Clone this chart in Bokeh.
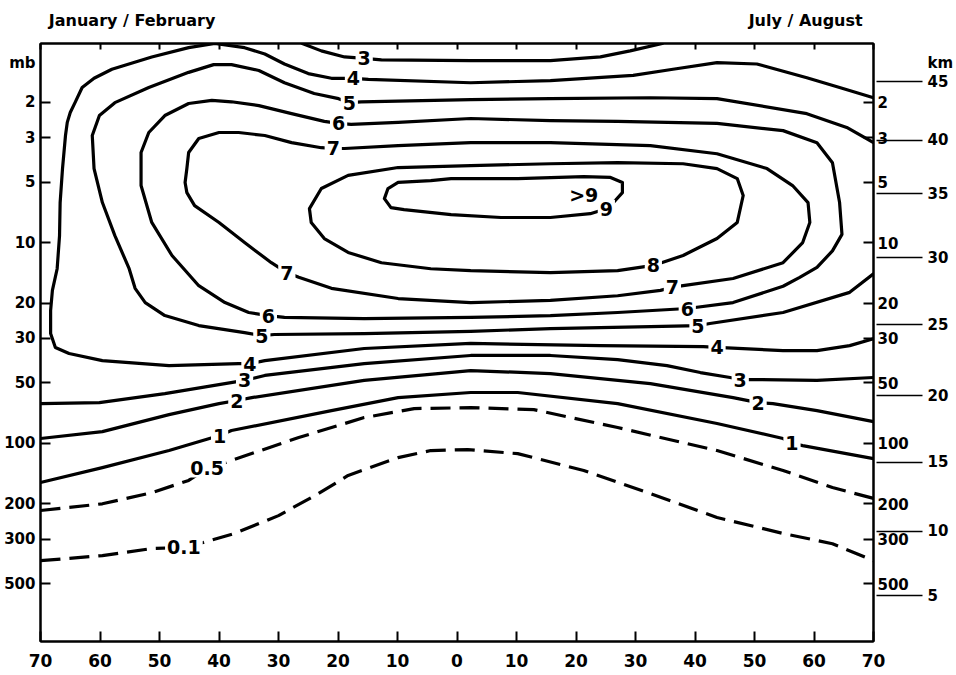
from bokeh.plotting import figure
from bokeh.models import (Range1d, FixedTicker, LogAxis, LinearAxis,
                          PrintfTickFormatter, ColumnDataSource)
from bokeh.core.properties import value
from bokeh.embed import file_html
from bokeh.resources import INLINE

FONT = "DejaVu Sans"

# ---- axes -----------------------------------------------------------------
lat_ticks = [-70, -60, -50, -40, -30, -20, -10, 0, 10, 20, 30, 40, 50, 60, 70]
lat_tick_labels = ["70", "60", "50", "40", "30", "20", "10", "0",
                   "10", "20", "30", "40", "50", "60", "70"]
p_ticks = [2, 3, 5, 10, 20, 30, 50, 100, 200, 300, 500]
km_p = [1.58, 3.10, 5.70, 11.9, 25.6, 57.8, 124, 274, 573]
km_labels = ["45", "40", "35", "30", "25", "20", "15", "10", "5"]

# season captions (centred over their half of the section) and unit names
season_lat = [-54.6, 58.6]
season_text = ["January / February", "July / August"]
unit_p = 1.27

# ---- ozone mixing-ratio isolines (latitude, pressure in mb) ---------------
c3_top_lat = [-26.0, -22.8, -18.9, -15.6, -12.7, 2.3, 15.7, 24.1, 29.1, 34.5]
c3_top_p = [1.02, 1.11, 1.19, 1.21, 1.23, 1.24, 1.24, 1.19, 1.11, 1.02]

c3_low_lat = [-70, -60.1, -49.1, -39.0, -35.7, -32.3, -15.6, 2.3, 15.7, 27.0,
              35.3, 40.9, 45.9, 47.6, 50.4, 60.5, 70]
c3_low_p = [63.4, 62.7, 56.5, 50.4, 48.6, 45.9, 40.1, 36.5, 36.5, 38.3,
            41.0, 44.4, 47.0, 48.1, 48.1, 48.6, 47.0]

c4_lat = [70, 64.3, 58.8, 50.4, 43.7, 36.3, 29.6, 15.7, 2.3, -14.9, -17.4,
          -21.1, -25.0, -29.0, -32.3, -35.7, -40.7, -45.1, -51.3, -58.0,
          -61.0, -63.0, -64.2, -65.0, -65.5, -65.8, -66.3, -66.7, -66.8,
          -67.2, -68.0, -68.3, -68.3, -67.5, -65.2, -59.6, -48.4, -36.7,
          -34.8, -32.3, -15.6, 2.3, 24.1, 41.4, 43.7, 54.8, 60.5, 66.0, 70]
c4_p = [1.90, 1.69, 1.51, 1.29, 1.27, 1.37, 1.47, 1.56, 1.60, 1.54, 1.52,
        1.52, 1.44, 1.29, 1.15, 1.07, 1.02, 1.07, 1.19, 1.37,
        1.52, 1.69, 2.01, 2.25, 2.52, 2.93, 4.28, 6.32, 9.23,
        13.5, 17.3, 21.8, 28.4, 33.3, 35.7, 38.7, 41.0, 40.1,
        40.1, 38.7, 33.7, 31.8, 32.6, 33.0, 33.3, 34.5, 34.5, 32.6, 30.1]

c5_lat = [70, 65.5, 58.8, 43.7, 32.5, 15.7, 2.3, -16.1, -18.1, -19.9, -24.0,
          -29.0, -33.3, -37.9, -40.9, -45.1, -51.8, -57.5, -60.1, -61.3,
          -61.0, -59.6, -57.5, -55.1, -54.1, -52.4, -49.1, -43.4, -35.7,
          -32.8, -30.7, -15.6, 2.3, 15.7, 32.5, 40.5, 42.5, 54.8, 66.0, 70]
c5_p = [3.18, 2.67, 2.28, 1.92, 1.90, 1.92, 1.94, 1.99, 2.01, 1.92, 1.81,
        1.60, 1.39, 1.30, 1.30, 1.42, 1.69, 2.01, 2.33, 2.93,
        4.28, 6.32, 9.23, 13.5, 16.9, 19.9, 23.1, 25.9, 28.1,
        29.1, 28.7, 28.4, 27.7, 26.8, 26.2, 25.9, 25.3, 22.3, 17.7, 14.3]

c6_lat = [-19.9, -17.8, -9.9, 2.3, 15.7, 27.0, 43.7, 54.8, 60.5, 63.1, 64.3,
          64.7, 63.1, 60.5, 57.6, 54.8, 46.4, 38.7, 27.0, 15.7, 2.3, -15.6,
          -29.0, -31.7, -35.0, -39.0, -43.4, -47.9, -51.3, -53.1, -53.1,
          -51.8, -49.1, -45.1, -41.2, -37.9, -33.3, -27.8, -22.3, -19.9]
c6_p = [2.55, 2.58, 2.52, 2.41, 2.47, 2.49, 2.55, 2.77, 3.18, 4.00, 6.32,
        9.1, 11.0, 13.3, 14.9, 16.5, 19.9, 21.3, 22.3, 23.1, 23.6, 23.9,
        23.6, 23.1, 22.3, 19.9, 16.4, 11.6, 7.94, 5.20, 3.56,
        2.83, 2.33, 2.03, 1.96, 1.99, 2.08, 2.28, 2.49, 2.55]

c7_lat = [-20.8, -18.9, -9.9, 2.3, 15.7, 32.5, 43.7, 52.1, 56.4, 59.0, 59.3,
          58.1, 54.8, 46.4, 38.0, 36.2, 34.2, 27.0, 15.7, 2.3, -9.9, -21.1,
          -26.6, -28.6, -31.2, -35.7, -40.0, -44.1, -45.4, -45.7, -45.4,
          -45.1, -43.4, -40.0, -36.7, -32.3, -27.8, -22.8, -20.8]
c7_p = [3.40, 3.40, 3.29, 3.18, 3.18, 3.29, 3.61, 4.28, 5.20, 6.32, 7.94,
        10.0, 12.6, 15.1, 16.4, 16.7, 17.3, 18.4, 19.4, 19.9, 19.0, 16.9,
        14.9, 14.1, 12.6, 10.0, 7.94, 6.55, 5.64, 5.02, 4.28,
        3.56, 3.03, 2.83, 2.83, 2.93, 3.18, 3.37, 3.40]

c8_lat = [2.3, 15.7, 27.0, 38.0, 43.7, 47.1, 48.1, 47.1, 43.7, 38.0, 33.0,
          27.0, 15.7, 2.3, -4.4, -12.7, -18.3, -22.3, -24.5, -24.8, -22.8,
          -18.3, -9.9, 2.3]
c8_p = [4.14, 4.05, 4.00, 4.05, 4.28, 4.80, 5.83, 7.94, 9.55, 11.6, 13.0,
        13.8, 14.1, 13.8, 13.5, 12.6, 11.2, 9.55, 7.94, 6.78, 5.38,
        4.63, 4.23, 4.14]

c9_lat = [-1.0, 10.2, 21.3, 25.8, 27.8, 27.8, 26.3, 25.1, 22.4, 15.7, 7.4,
          -1.0, -8.9, -11.1, -12.2, -11.6, -9.9, -4.4, -1.0]
c9_p = [4.80, 4.80, 4.69, 4.74, 5.02, 5.64, 6.32, 6.78, 7.18, 7.50, 7.50,
        7.26, 6.85, 6.70, 6.04, 5.38, 5.02, 4.91, 4.80]

c2_lat = [-70, -59.6, -48.4, -40.0, -37.0, -34.5, -15.6, 2.3, 15.7, 32.5,
          46.4, 50.6, 53.1, 60.5, 70]
c2_p = [94.6, 87.4, 71.9, 63.4, 61.2, 59.2, 48.6, 43.4, 44.9, 50.4,
        59.2, 62.7, 63.4, 68.7, 77.9]

c1_lat = [-70, -59.6, -48.4, -39.9, -37.9, -21.1, -9.9, 2.3, 10.2, 27.0,
          43.7, 54.8, 56.3, 58.1, 70]
c1_p = [156.7, 132, 108.6, 91.4, 86.3, 68.7, 59.2, 55.8, 55.8, 63.4,
        79.6, 94.6, 100, 102.6, 119.1]

c05_lat = [-70, -59.6, -51.3, -45.1, -42.0, -39.5, -26.6, -15.6, -7.2, 2.3,
           12.9, 27.0, 43.7, 54.8, 63.1, 70]
c05_p = [216, 200, 176, 153, 133.4, 126.2, 93.5, 74.4, 67.1, 66.4,
         67.9, 83.4, 108.6, 136.5, 166, 188]

c01_lat = [-70, -59.6, -51.3, -45.9, -43.4, -37.4, -30.0, -23.3, -18.3, -9.9,
           -4.4, 1.8, 10.2, 21.3, 32.5, 43.7, 54.8, 63.1, 70]
c01_p = [384, 362, 334, 330, 316, 281, 229, 178, 144.5, 117.8,
         108.6, 107.4, 112.5, 136.5, 178, 234, 281, 316, 384]

# isoline labels
lab_lat = [-15.6, -17.4, -18.1, -19.9, -20.8,
           -28.6, -31.7, -32.8, -34.8, -35.7, -37.0, -39.9, -42.0, -45.9,
           21.3, 25.1, 33.0, 36.2, 38.7, 40.5, 43.7, 47.6, 50.6, 56.3]
lab_p = [1.21, 1.52, 2.01, 2.55, 3.40,
         14.1, 23.1, 29.1, 40.1, 48.6, 61.2, 91.4, 133.4, 330,
         5.77, 6.78, 13.0, 16.7, 21.3, 25.9, 33.3, 48.1, 62.7, 100]
lab_txt = ["3", "4", "5", "6", "7",
           "7", "6", "5", "4", "3", "2", "1", "0.5", "0.1",
           ">9", "9", "8", "7", "6", "5", "4", "3", "2", "1"]

# ---- figure ---------------------------------------------------------------
p = figure(width=956, height=675, x_range=Range1d(-70, 70),
           y_range=Range1d(970, 1.02), y_axis_type="log",
           toolbar_location=None, output_backend="svg",
           min_border_left=40, min_border_right=80,
           min_border_top=43, min_border_bottom=34,
           background_fill_color="white", border_fill_color="white")
p.xgrid.visible = False
p.ygrid.visible = False
p.outline_line_color = "black"
p.outline_line_width = 2


def style_axis(ax, size="15px"):
    ax.axis_line_color = "black"
    ax.axis_line_width = 2
    ax.major_tick_line_color = "black"
    ax.major_tick_line_width = 2
    ax.minor_tick_line_color = None
    ax.major_label_text_font = FONT
    ax.major_label_text_font_style = "bold"
    ax.major_label_text_font_size = size
    ax.major_label_text_color = "black"


# left: pressure, with the unit name above the labelled levels; the visible
# inward tick marks are the minor ticks
left = p.yaxis[0]
style_axis(left)
left.ticker = FixedTicker(ticks=[unit_p] + p_ticks, minor_ticks=p_ticks)
left.formatter = PrintfTickFormatter(format="%d")
left.major_label_overrides = {unit_p: "mb"}
left.major_tick_line_color = None
left.major_tick_in = 0
left.major_tick_out = 0
left.minor_tick_line_color = "black"
left.minor_tick_line_width = 2
left.minor_tick_in = 10
left.minor_tick_out = 0
left.major_label_standoff = 5

bottom = p.xaxis[0]
style_axis(bottom, "17px")
bottom.ticker = FixedTicker(ticks=lat_ticks)
bottom.major_label_overrides = dict(zip(lat_ticks, lat_tick_labels))
bottom.major_tick_in = 10
bottom.major_tick_out = 0
bottom.major_label_standoff = 12

# top: short inward latitude ticks plus the two season captions
top = LinearAxis(ticker=FixedTicker(ticks=season_lat, minor_ticks=lat_ticks))
style_axis(top, "16px")
top.major_label_overrides = dict(zip(season_lat, season_text))
top.major_tick_line_color = None
top.major_tick_in = 0
top.major_tick_out = 0
top.minor_tick_line_color = "black"
top.minor_tick_line_width = 2
top.minor_tick_in = 6
top.minor_tick_out = 0
top.major_label_standoff = 14
p.add_layout(top, "above")

right_p = LogAxis(ticker=FixedTicker(ticks=p_ticks),
                  formatter=PrintfTickFormatter(format="%d"))
style_axis(right_p)
right_p.major_tick_in = 10
right_p.major_tick_out = 0
right_p.major_label_standoff = 4
p.add_layout(right_p, "right")

# right: standard-atmosphere heights; long minor ticks, labels on major ticks
right_km = LogAxis(ticker=FixedTicker(ticks=[unit_p] + km_p, minor_ticks=km_p))
style_axis(right_km)
right_km.major_label_overrides = dict(zip([unit_p] + km_p, ["km"] + km_labels))
right_km.axis_line_color = None
right_km.major_tick_line_color = None
right_km.major_tick_in = 0
right_km.major_tick_out = 11
right_km.minor_tick_line_color = "black"
right_km.minor_tick_line_width = 1.5
right_km.minor_tick_in = 35
right_km.minor_tick_out = 11
right_km.major_label_standoff = 5
p.add_layout(right_km, "right")

# ---- isolines ---------------------------------------------------------------
solid = dict(line_color="black", line_width=3.2, line_join="round",
             line_cap="round")
dashed = dict(line_color="black", line_width=3.2, line_dash="20 9",
              line_join="round")

for xs, ys in [(c3_top_lat, c3_top_p), (c3_low_lat, c3_low_p),
               (c4_lat, c4_p), (c5_lat, c5_p), (c6_lat, c6_p),
               (c7_lat, c7_p), (c8_lat, c8_p), (c9_lat, c9_p),
               (c2_lat, c2_p), (c1_lat, c1_p)]:
    p.line(xs, ys, **solid)
for xs, ys in [(c05_lat, c05_p), (c01_lat, c01_p)]:
    p.line(xs, ys, **dashed)

lab_src = ColumnDataSource(dict(lat=lab_lat, p=lab_p, txt=lab_txt))
p.text(x="lat", y="p", text="txt", source=lab_src,
       text_font=value(FONT), text_font_style="bold", text_font_size="19px",
       text_color="black", text_align="center", text_baseline="middle",
       background_fill_color="white", padding=2)

open("out.html", "w").write(file_html(p, INLINE))
